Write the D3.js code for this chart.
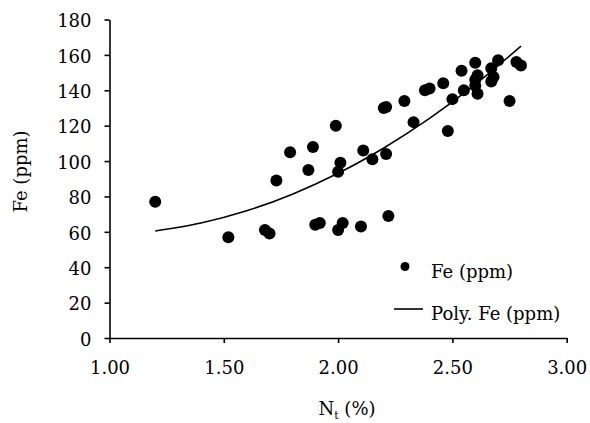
<!DOCTYPE html>
<html>
<head>
<meta charset="utf-8">
<script src="https://cdn.jsdelivr.net/npm/d3@7"></script>
<style>
  body { margin: 0; background: #fff; }
  text { font-family: "DejaVu Serif", serif; }
</style>
</head>
<body>
<div id="chart"></div>
<script>
const WIDTH = 590;
const HEIGHT = 423;

// scatter: N_t (%) vs Fe (ppm)
const nt = [1.20, 1.52, 1.68, 1.70, 1.73, 1.79, 1.87, 1.89, 1.90, 1.92,
            1.99, 2.00, 2.01, 2.00, 2.02, 2.10, 2.11, 2.15, 2.21, 2.20,
            2.21, 2.22, 2.29, 2.33, 2.38, 2.40, 2.46, 2.48, 2.50, 2.54,
            2.55, 2.60, 2.60, 2.61, 2.60, 2.61, 2.67, 2.68, 2.67, 2.70,
            2.75, 2.78, 2.80];
const fe = [77, 57, 61, 59, 89, 105, 95, 108, 64, 65,
            120, 94, 99, 61, 65, 63, 106, 101, 104, 130,
            130.5, 69, 134, 122, 140, 141, 144, 117, 135, 151,
            140, 155.5, 146, 148.5, 142.5, 138, 152.5, 147.5, 145, 157,
            134, 156, 154];

// poly trendline
const polyX = [1.2, 1.4, 1.6, 1.8, 2.0, 2.2, 2.4, 2.6, 2.8];
const polyY = [60.5, 65.0, 71.9, 81.3, 93.1, 107.4, 124.1, 143.3, 165.0];

const xTicks = [1.0, 1.5, 2.0, 2.5, 3.0];
const yTicks = [0, 20, 40, 60, 80, 100, 120, 140, 160, 180];

const svg = d3.select("#chart").append("svg")
   .attr("width", WIDTH)
   .attr("height", HEIGHT);

svg.append("rect")
   .attr("width", WIDTH)
   .attr("height", HEIGHT)
   .attr("fill", "white");

const xScale = d3.scaleLinear().domain([1, 3]).range([109.5, 566.7]);
const yScale = d3.scaleLinear().domain([0, 180]).range([338, 19.5]);

// X AXIS
const gx = svg.append("g")
   .attr("transform", "translate(0," + yScale(0) + ")")
   .call(d3.axisBottom(xScale).tickValues(xTicks).tickFormat(d3.format(".2f"))
         .tickSize(5).tickSizeOuter(0).tickPadding(18));
gx.select(".domain").attr("stroke-width", 1.6);
gx.selectAll(".tick line").attr("stroke-width", 1.6);
gx.selectAll("text").attr("font-size", 18).attr("font-family", "DejaVu Serif").attr("fill", "#000");

// Y AXIS
const gy = svg.append("g")
   .attr("transform", "translate(" + xScale(1) + ",0)")
   .call(d3.axisLeft(yScale).tickValues(yTicks).tickSize(5).tickSizeOuter(0).tickPadding(13));
gy.select(".domain").attr("stroke-width", 1.6);
gy.selectAll(".tick line").attr("stroke-width", 1.6);
gy.selectAll("text").attr("font-size", 18).attr("font-family", "DejaVu Serif").attr("fill", "#000")
   .attr("dy", "0.4em");

// trendline
const line = d3.line()
   .x(i => xScale(polyX[i]))
   .y(i => yScale(polyY[i]))
   .curve(d3.curveCatmullRom);

svg.append("path")
   .datum(d3.range(polyX.length))
   .attr("d", line)
   .attr("fill", "none")
   .attr("stroke", "#000")
   .attr("stroke-width", 1.6);

// points
svg.selectAll("circle.pt")
   .data(d3.range(nt.length))
   .join("circle")
   .attr("class", "pt")
   .attr("cx", i => xScale(nt[i]))
   .attr("cy", i => yScale(fe[i]))
   .attr("r", 6)
   .attr("fill", "#000");

// Legend
svg.append("circle")
   .attr("cx", 405).attr("cy", 266.5).attr("r", 4.5).attr("fill", "#000");
svg.append("text")
   .attr("x", 431).attr("y", 278)
   .attr("font-size", 18)
   .text("Fe (ppm)");
svg.append("line")
   .attr("x1", 394).attr("x2", 423).attr("y1", 309).attr("y2", 309)
   .attr("stroke", "#000").attr("stroke-width", 1.6);
svg.append("text")
   .attr("x", 431).attr("y", 320)
   .attr("font-size", 18)
   .text("Poly. Fe (ppm)");

// axis titles
svg.append("text")
   .attr("transform", "translate(27,171.5) rotate(-90)")
   .attr("text-anchor", "middle")
   .attr("font-size", 18)
   .text("Fe (ppm)");

const xt = svg.append("text")
   .attr("x", 347).attr("y", 415)
   .attr("text-anchor", "middle")
   .attr("font-size", 18);
xt.append("tspan").text("N");
xt.append("tspan").attr("font-size", 11).attr("dy", 4).text("t");
xt.append("tspan").attr("dy", -4).text(" (%)");
</script>
</body>
</html>
